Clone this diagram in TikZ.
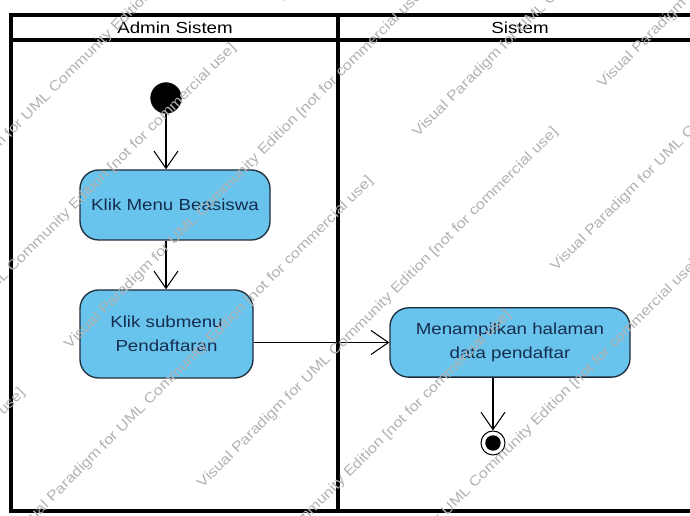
\documentclass[tikz,border=0pt]{standalone}
\usepackage{fontspec}
\setmainfont{Liberation Sans}[FakeStretch=1.17]
\usetikzlibrary{arrows.meta}
\definecolor{actfill}{RGB}{104,196,236}
\definecolor{actdraw}{RGB}{30,45,60}
\definecolor{acttext}{RGB}{22,45,80}
\definecolor{wmgray}{RGB}{178,178,178}
\tikzset{
  lanebox/.style={draw=black, line width=2.3pt},
  activity/.style={draw=actdraw, fill=actfill, line width=1pt, rounded corners=14pt,
    text=acttext, align=center, font=\fontsize{12pt}{18pt}\selectfont, inner sep=0pt},
  lanetitle/.style={font=\fontsize{12pt}{14pt}\selectfont, text=black, inner sep=0pt},
  flow/.style={draw=black, line width=0.8pt, -{Straight Barb[length=13pt, width=18pt, line width=0.8pt]}},
  startnode/.style={circle, fill=black, draw=black, minimum size=23pt, inner sep=0pt},
  endnode/.style={circle, draw=black, line width=0.8pt, minimum size=18pt, inner sep=0pt,
    path picture={\fill[black] (path picture bounding box.center) circle (5.8pt);}},
  watermark/.style={rotate=45, anchor=west, inner sep=0pt, text=wmgray,
    font=\fontsize{10.5pt}{12pt}\selectfont}
}
\begin{document}
\begin{tikzpicture}[x=0.75pt, y=-0.75pt]
\useasboundingbox (0,0) rectangle (690,516);
\fill[white] (0,0) rectangle (690,516);
\begin{scope}
\clip (0,0) rectangle (690,516);
% swimlanes
\coordinate (tl) at (11,15);
\coordinate (br) at (705,511);
\draw[lanebox] (tl) rectangle (br);
\draw[lanebox] (11,40) -- (705,40);
\draw[lanebox] (338,15) -- (338,511);
\node[lanetitle] (laneA) at (175,28) {Admin Sistem};
\node[lanetitle] (laneB) at (520,28) {Sistem};

% nodes
\node[startnode] (init) at (166,98) {};
\node[activity, minimum width=142.5pt, minimum height=52.5pt] (act1) at (175,205) {Klik Menu Beasiswa};
\node[activity, minimum width=129.75pt, minimum height=66pt] (act2) at (166.5,334) {Klik submenu\\Pendaftaran};
\node[activity, minimum width=180pt, minimum height=52pt] (act3) at (510,342.5) {Menampilkan halaman\\data pendaftar};
\node[endnode] (final) at (493,443) {};

% flows
\draw[flow] (init) -- (init |- act1.north);
\draw[flow] (act1.south -| init) -- (act2.north -| init);
\draw[flow] (act2.east |- act3.west) -- (act3.west);
\draw[flow] (act3.south -| final) -- (final.north);

% watermark text
\foreach \c/\xo [count=\i] in {143/-80, 280/-122, 414/67, 550/15, 686/200, 822/153, 958/340} {
  \foreach \k in {-2,-1,0,1} {
    \pgfmathsetmacro{\xx}{\xo+400*\k}
    \pgfmathsetmacro{\yy}{\c-\xx}
    \node[watermark] (wm-\i-\k) at (\xx,\yy) {Visual Paradigm for UML Community Edition [not for commercial use]};
  }
}
\end{scope}
\end{tikzpicture}
\end{document}
